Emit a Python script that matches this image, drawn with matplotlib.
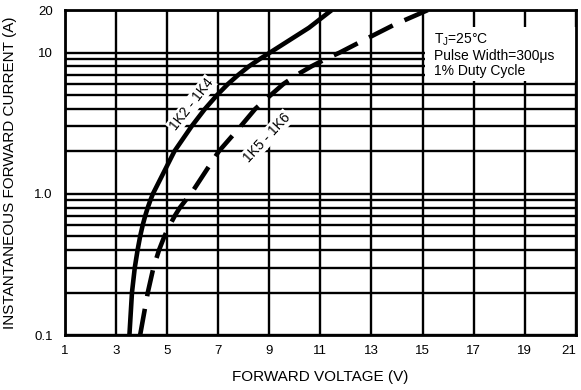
import matplotlib
import matplotlib.pyplot as plt
import matplotlib.ticker as mticker
from matplotlib.patches import Rectangle

# ── data ──────────────────────────────────────────────────────────────────────
I_1K2 = [0.1, 0.2, 0.3, 0.4, 0.5, 0.6, 0.7, 0.8, 0.9, 1.0,
         2.0, 3.0, 4.0, 5.0, 6.0, 7.0, 8.0, 9.0, 10.0, 15.0, 20.0]
V_1K2 = [3.52, 3.62, 3.73, 3.84, 3.94, 4.04, 4.14, 4.24, 4.34, 4.44,
         5.28, 5.95, 6.48, 6.95, 7.38, 7.8, 8.2, 8.62, 9.02, 10.55, 11.44]

I_1K5 = [0.1, 0.2, 0.3, 0.4, 0.5, 0.6, 0.7, 0.8, 0.9, 1.0,
         2.0, 3.0, 4.0, 5.0, 6.0, 7.0, 8.0, 9.0, 10.0, 12.4, 15.8, 20.0]
V_1K5 = [3.94, 4.24, 4.46, 4.68, 4.89, 5.1, 5.3, 5.5, 5.72, 5.93,
         7.02, 7.87, 8.45, 9.05, 9.55, 10.1, 10.65, 11.2, 11.75, 12.75, 13.9, 15.2]

X_TICKS = [1, 3, 5, 7, 9, 11, 13, 15, 17, 19, 21]
Y_TICKS = [0.1, 1.0, 10, 20]
Y_TICKLABELS = ["0.1", "1.0", "10", "20"]

matplotlib.rcParams.update({
    "font.family": ["Liberation Sans", "DejaVu Sans"],
    "font.size": 9,
})

fig = plt.figure(figsize=(5.81, 3.90), dpi=100)
ax = fig.add_axes([0.112, 0.141, 0.879, 0.833])

ax.set_yscale("log")
ax.set_xlim(1, 21)
ax.set_ylim(0.1, 20)

# ── grid ──────────────────────────────────────────────────────────────────────
ax.set_xticks(X_TICKS)
ax.set_xticklabels([str(t) for t in X_TICKS])
ax.get_xticklabels()[-1].set_horizontalalignment("right")
ax.set_yticks(Y_TICKS)
ax.set_yticklabels(Y_TICKLABELS)
ax.yaxis.set_minor_locator(mticker.LogLocator(base=10, subs=range(2, 10)))
ax.yaxis.set_minor_formatter(mticker.NullFormatter())
ax.tick_params(axis="x", which="both", length=0, pad=7, labelsize=9.5)
ax.tick_params(axis="y", which="both", length=0, pad=9, labelsize=9.5)
ax.grid(which="both", color="black", linewidth=1.7)
for s in ax.spines.values():
    s.set_linewidth(2.0)

# white patch holding the test conditions
ax.add_patch(Rectangle((15.08, 6.3), 5.92, 9.0, facecolor="white",
                       edgecolor="none", zorder=2))
ax.text(15.45, 14.0, "T$_\\mathregular{J}$=25°C\nPulse Width=300μs\n1% Duty Cycle",
        fontsize=10, va="top", ha="left", linespacing=1.05, zorder=3)

# ── curves ────────────────────────────────────────────────────────────────────
ax.plot(V_1K2, I_1K2, color="black", linewidth=3.3, zorder=3,
        solid_capstyle="butt", solid_joinstyle="round")
ax.plot(V_1K5, I_1K5, color="black", linewidth=3.3, zorder=3,
        linestyle=(0, (5.8, 2.8)), dash_capstyle="butt", dash_joinstyle="round")

lab = dict(fontsize=10, ha="center", va="center", zorder=4,
           bbox=dict(facecolor="white", edgecolor="none", pad=1.0))
ax.text(5.95, 4.3, "1K2 - 1K4", rotation=52, **lab)
ax.text(8.9, 2.5, "1K5 - 1K6", rotation=47, **lab)

ax.set_xlabel("FORWARD VOLTAGE (V)", fontsize=11)
ax.set_ylabel("INSTANTANEOUS FORWARD CURRENT (A)", fontsize=11)
ax.xaxis.set_label_coords(0.5, -0.108)
ax.yaxis.set_label_coords(-0.094, 0.5)

fig.savefig("out.png", dpi=100, facecolor="white")
